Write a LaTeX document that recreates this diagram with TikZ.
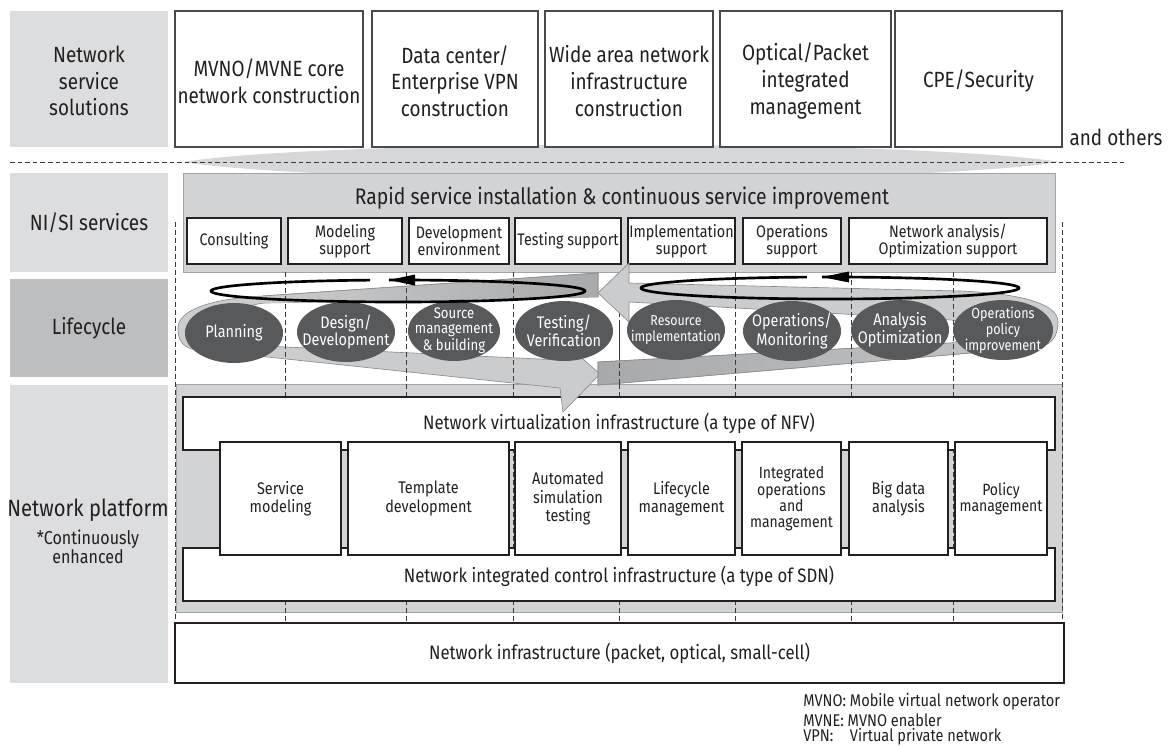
\documentclass[tikz,border=0pt]{standalone}
\usepackage{fontspec}
\setmainfont{Fira Sans}[FakeStretch=0.86]
\usetikzlibrary{fit,shapes.geometric}
\definecolor{txt}{HTML}{231F20}
\definecolor{labl}{HTML}{DCDDDE}
\definecolor{labd}{HTML}{BDBEC0}
\definecolor{panelc}{HTML}{D2D3D5}
\definecolor{panelln}{HTML}{A2A3A5}
\definecolor{boxln}{HTML}{4A4A4C}
\definecolor{loopl}{HTML}{CBCCCE}
\definecolor{loopd}{HTML}{A8A9AB}
\definecolor{loopln}{HTML}{8C8D8F}
\definecolor{ellc}{HTML}{58595B}
\definecolor{lensc}{HTML}{D6D7D9}
\definecolor{dashc}{HTML}{3A3A3C}
\newcommand\fH{\fontsize{16.5pt}{20pt}\selectfont}
\newcommand\fR{\fontsize{16.9pt}{20pt}\selectfont}
\newcommand\fNP{\fontsize{17.6pt}{20pt}\selectfont}
\newcommand\fC{\fontsize{14pt}{14.25pt}\selectfont}
\newcommand\fS{\fontsize{12.5pt}{12.6pt}\selectfont}
\newcommand\fE{\fontsize{12.6pt}{12.4pt}\selectfont}
\newcommand\fEs{\fontsize{11.5pt}{11.25pt}\selectfont}
\newcommand\fEr{\fontsize{10.8pt}{12pt}\selectfont}
\newcommand\fEo{\fontsize{11pt}{9.4pt}\selectfont}
\newcommand\fP{\fontsize{12.6pt}{13.9pt}\selectfont}
\newcommand\fPt{\fontsize{12.2pt}{12pt}\selectfont}
\newcommand\fI{\fontsize{14.6pt}{17pt}\selectfont}
\newcommand\fF{\fontsize{12.7pt}{12.8pt}\selectfont}
\newcommand\bx[8]{\path (#4,#5) coordinate (#1-nw) (#6,#7) coordinate (#1-se);\node[fit=(#1-nw)(#1-se),inner sep=0pt,outer sep=0pt,#2] (#1) {};\node[align=center, inner sep=0pt, text=txt, #3] (#1-t) at (#1.center) {#8};}
\tikzset{
  lab/.style={fill=labl},
  labt/.style={font=\fH},
  topbox/.style={draw=boxln, line width=0.9pt, fill=white},
  topt/.style={font=\fH, yshift=-1.5pt},
  smallbox/.style={draw=txt, line width=0.9pt, fill=white},
  smallt/.style={font=\fS},
  panelbox/.style={fill=panelc, draw=panelln, line width=0.7pt},
  wbox/.style={draw=txt, line width=0.9pt, fill=white},
  wt/.style={font=\fI},
  funcbox/.style={draw=txt, line width=0.9pt, fill=white},
  funct/.style={font=\fP},
  lc/.style={ellipse, fill=ellc, minimum width=73.5pt, minimum height=45pt, inner sep=0pt},
  lct/.style={text=white, font=\fE, align=center, inner sep=0pt},
  vdash/.style={draw=dashc, line width=0.75pt, dash pattern=on 3.5pt off 2.5pt},
  hdash/.style={draw=dashc, line width=0.75pt, dash pattern=on 3.5pt off 2.2pt},
  loopshape/.style={fill=loopl, draw=loopln, line width=0.5pt},
  ring/.style={line width=2pt, draw=black},
  fn/.style={font=\fF, text=txt, anchor=west, inner sep=0pt}
}
\begin{document}
\begin{tikzpicture}[x=0.75pt,y=-0.75pt]
\useasboundingbox (0,0) rectangle (1171,746);
% lens behind the dashed separator
\fill[lensc] (183,162) .. controls (330,139) and (910,139) .. (1060,162) .. controls (910,185) and (330,185) .. (183,162);
% left labels
\bx{lab1}{lab}{labt, yshift=-1.5pt}{10}{11}{168}{147}{Network\\service\\solutions}
\bx{lab2}{lab}{labt}{10}{173}{168}{272}{NI/SI services}
\bx{lab3}{lab, fill=labd}{labt}{10}{279}{168}{377}{Lifecycle}
\bx{lab4}{lab}{labt}{10}{385}{168}{683}{}
\node[font=\fNP, text=txt] (lab4a) at (88,510) {Network platform};
\node[font=\fC, text=txt, align=center] (lab4b) at (88,547) {*Continuously\\enhanced};
% top solutions
\bx{s1}{topbox}{topt}{175}{11}{363}{147}{MVNO/MVNE core\\network construction}
\bx{s2}{topbox}{topt}{372}{11}{538}{147}{Data center/\\Enterprise VPN\\construction}
\bx{s3}{topbox}{topt}{545}{11}{713}{147}{Wide area network\\infrastructure\\construction}
\bx{s4}{topbox}{topt}{720}{11}{891}{147}{Optical/Packet\\integrated\\management}
\bx{s5}{topbox}{topt}{895}{11}{1062}{147}{CPE/Security}
\node[font=\fH, text=txt] (others) at (1116,137) {and others};
% separator
\coordinate (hl) at (10,162); \coordinate (hr) at (1125,162);
\draw[hdash] (hl) -- (hr);
% NI/SI services
\bx{nisi}{panelbox}{}{183}{173}{1055}{272}{}
\node[font=\fR, text=txt] (rapid) at (622,198) {Rapid service installation \& continuous service improvement};
\bx{c1}{smallbox}{smallt}{187}{218}{281}{264}{Consulting}
\bx{c2}{smallbox}{smallt}{288}{218}{402}{264}{Modeling\\support}
\bx{c3}{smallbox}{smallt}{409}{218}{509}{264}{Development\\environment}
\bx{c4}{smallbox}{smallt}{515}{218}{621}{264}{Testing support}
\bx{c5}{smallbox}{smallt}{628}{218}{735}{264}{Implementation\\support}
\bx{c6}{smallbox}{smallt}{743}{218}{841}{264}{Operations\\support}
\bx{c7}{smallbox}{smallt}{849}{218}{1047}{264}{Network analysis/\\Optimization support}
% platform
\bx{plat}{panelbox}{}{176}{384}{1062}{612}{}
% column dashed lines
\draw[vdash] (175,222) -- (175,623);
\draw[vdash] (1062,222) -- (1062,623);
\foreach \xx in {285,406,513,619,735,851,953}{\draw[vdash] (\xx,272) -- (\xx,623);}
\bx{nfv}{wbox}{wt}{183}{397}{1055}{450}{Network virtualization infrastructure (a type of NFV)}
\bx{sdn}{wbox}{wt, yshift=-1.5pt}{183}{548}{1055}{601}{Network integrated control infrastructure (a type of SDN)}
\bx{f1}{funcbox}{funct}{220}{442}{341}{555}{Service\\modeling}
\bx{f2}{funcbox}{funct}{348}{442}{509}{555}{Template\\development}
\bx{f3}{funcbox}{funct}{515}{442}{621}{555}{Automated\\simulation\\testing}
\bx{f4}{funcbox}{funct}{628}{442}{735}{555}{Lifecycle\\management}
\bx{f5}{funcbox}{font=\fPt}{742}{442}{841}{555}{Integrated\\operations\\and\\management}
\bx{f6}{funcbox}{funct}{849}{442}{948}{555}{Big data\\analysis}
\bx{f7}{funcbox}{font=\fPt}{955}{442}{1047}{555}{Policy\\management}
\bx{infra}{wbox}{wt}{175}{623}{1064}{683}{Network infrastructure (packet, optical, small-cell)}
% lifecycle loops
\path[loopshape] (598,273) -- (263,296) .. controls (205,299) and (178,312) .. (178,328) .. controls (178,340) and (182,346) .. (192,349) -- (560,388) -- (563,412) -- (600,374) -- (558,337) -- (560,360) -- (265,346) .. controls (226,341) and (226,306) .. (265,303) -- (598,297) -- cycle;
\shade[left color=loopl, right color=loopd] (598,273) -- (263,296) -- (265,303) -- (598,297) -- cycle;
\draw[loopln, line width=0.5pt] (263,296) -- (598,273) -- (598,297);
\path[loopshape] (598,362) -- (951,343) .. controls (975,338) and (975,322) .. (951,320) -- (629,302) -- (629,322) -- (598,293) -- (629,263) -- (629,283) -- (960,291) .. controls (1030,294) and (1058,306) .. (1058,322) .. controls (1058,336) and (1052,344) .. (1040,347) -- (598,385) -- cycle;
\shade[left color=loopd, right color=loopl!80!loopd] (598,362) -- (951,343) -- (1040,347) -- (598,385) -- cycle;
\draw[loopln, line width=0.5pt] (951,343) -- (598,362) -- (598,385) -- (1040,347);
% dashed lines over the lifecycle band
\foreach \xx in {285,406,513,735,851,953}{\draw[vdash] (\xx,272) -- (\xx,384);}
\draw[vdash] (619,323) -- (619,384);
% lifecycle ellipses
\node[lc] (e1) at (234,333) {}; \node[lct] (t1) at (e1) {Planning};
\node[lc] (e2) at (346,332) {}; \node[lct] (t2) at (e2) {Design/\\Development};
\node[lc, minimum width=69pt] (e3) at (454,331) {}; \node[lct, font=\fEs] (t3) at (e3) {Source\\management\\\& building};
\node[lc] (e4) at (564,331) {}; \node[lct] (t4) at (e4) {Testing/\\Verification};
\node[lc] (e5) at (676,330) {}; \node[lct, font=\fEr] (t5) at (e5) {Resource\\implementation};
\node[lc] (e6) at (792,331) {}; \node[lct] (t6) at (e6) {Operations/\\Monitoring};
\node[lc] (e7) at (900,330) {}; \node[lct] (t7) at (e7) {Analysis\\Optimization};
\node[lc, minimum width=75pt] (e8) at (1003,330) {}; \node[lct, font=\fEo] (t8) at (e8) {Operations\\policy\\improvement};
% rings
\draw[ring] plot[domain=267.2:621.4, samples=120] ({398+187*cos(\x)},{291+11*sin(\x)});
\fill[black] (389,280) -- (415,274.5) -- (415,285.5) -- cycle;
\draw[ring] plot[domain=267.6:623, samples=120] ({830+189*cos(\x)},{288+11*sin(\x)});
\fill[black] (822,277) -- (849,271.5) -- (849,282.5) -- cycle;
% footnotes
\node[fn] (fn1) at (803,702) {\makebox[35pt][l]{MVNO:}Mobile virtual network operator};
\node[fn] (fn2) at (803,720) {MVNE: MVNO enabler};
\node[fn] (fn3) at (803,737) {\makebox[35pt][l]{VPN:}Virtual private network};
\end{tikzpicture}
\end{document}
